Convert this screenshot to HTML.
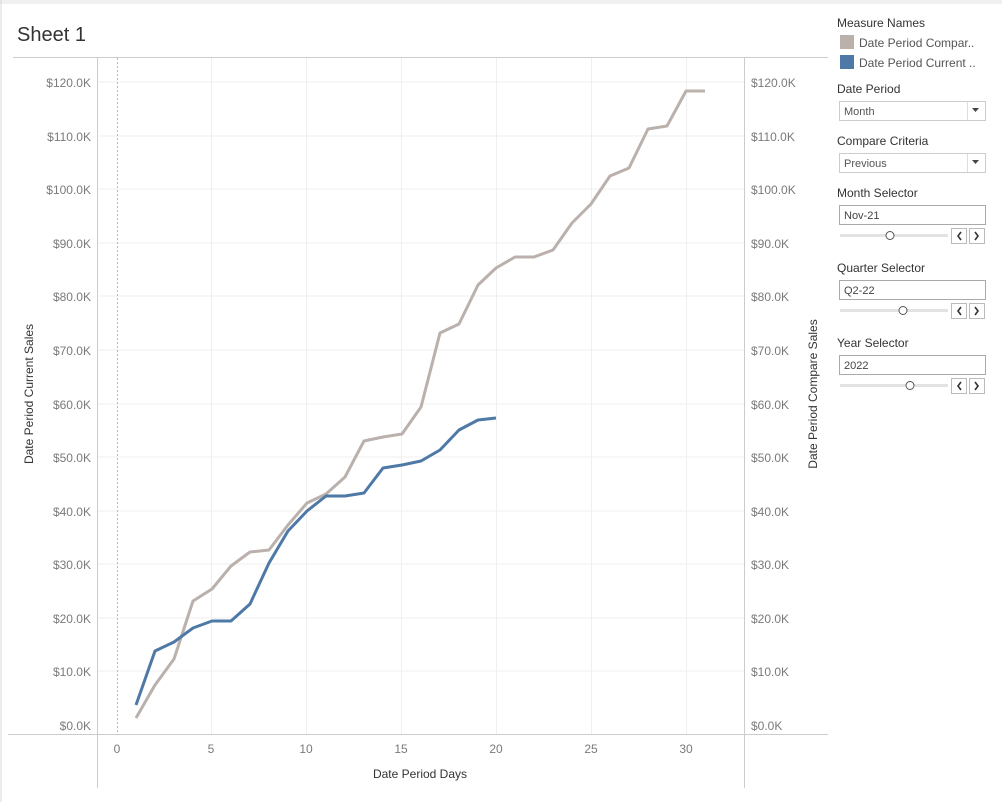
<!DOCTYPE html>
<html><head><meta charset="utf-8"><style>
body{margin:0;width:1002px;height:802px;background:#fff;font-family:"Liberation Sans",sans-serif;overflow:hidden}
</style></head><body>
<svg width="1002" height="802" style="position:absolute;left:0;top:0" font-family="Liberation Sans, sans-serif">
<rect x="0" y="0" width="1002" height="4" fill="#f0f0f0"/>
<line x1="1" y1="0" x2="1" y2="802" stroke="#d8d8d8"/>
<text x="17" y="41" font-size="20" fill="#333">Sheet 1</text>
<line x1="13" y1="57.5" x2="828" y2="57.5" stroke="#ccc"/>
<line x1="97.5" y1="57" x2="97.5" y2="788" stroke="#ccc"/>
<line x1="744.5" y1="57" x2="744.5" y2="788" stroke="#ccc"/>
<line x1="8" y1="734.5" x2="828" y2="734.5" stroke="#ccc"/>
<g stroke="#efefef">
<line x1="98" x2="744" y1="82" y2="82"/><line x1="98" x2="744" y1="136" y2="136"/><line x1="98" x2="744" y1="189" y2="189"/><line x1="98" x2="744" y1="243" y2="243"/><line x1="98" x2="744" y1="296" y2="296"/><line x1="98" x2="744" y1="350" y2="350"/><line x1="98" x2="744" y1="404" y2="404"/><line x1="98" x2="744" y1="457" y2="457"/><line x1="98" x2="744" y1="511" y2="511"/><line x1="98" x2="744" y1="564" y2="564"/><line x1="98" x2="744" y1="618" y2="618"/><line x1="98" x2="744" y1="671" y2="671"/>
<line x1="211.5" x2="211.5" y1="58" y2="734"/><line x1="306.5" x2="306.5" y1="58" y2="734"/><line x1="401.5" x2="401.5" y1="58" y2="734"/><line x1="496.5" x2="496.5" y1="58" y2="734"/><line x1="591.5" x2="591.5" y1="58" y2="734"/><line x1="686.5" x2="686.5" y1="58" y2="734"/>
</g>
<line x1="117.5" y1="58" x2="117.5" y2="734" stroke="#bbb" stroke-dasharray="2,2"/>
<g font-size="12" fill="#7a7a7a" text-anchor="end">
<text x="91" y="87">$120.0K</text><text x="91" y="141">$110.0K</text><text x="91" y="194">$100.0K</text><text x="91" y="248">$90.0K</text><text x="91" y="301">$80.0K</text><text x="91" y="355">$70.0K</text><text x="91" y="409">$60.0K</text><text x="91" y="462">$50.0K</text><text x="91" y="516">$40.0K</text><text x="91" y="569">$30.0K</text><text x="91" y="623">$20.0K</text><text x="91" y="676">$10.0K</text><text x="91" y="730">$0.0K</text>
</g>
<g font-size="12" fill="#7a7a7a" text-anchor="start">
<text x="751" y="87">$120.0K</text><text x="751" y="141">$110.0K</text><text x="751" y="194">$100.0K</text><text x="751" y="248">$90.0K</text><text x="751" y="301">$80.0K</text><text x="751" y="355">$70.0K</text><text x="751" y="409">$60.0K</text><text x="751" y="462">$50.0K</text><text x="751" y="516">$40.0K</text><text x="751" y="569">$30.0K</text><text x="751" y="623">$20.0K</text><text x="751" y="676">$10.0K</text><text x="751" y="730">$0.0K</text>
</g>
<g font-size="12" fill="#7a7a7a" text-anchor="middle">
<text x="117" y="753">0</text><text x="211" y="753">5</text><text x="306" y="753">10</text><text x="401" y="753">15</text><text x="496" y="753">20</text><text x="591" y="753">25</text><text x="686" y="753">30</text>
</g>
<text x="420" y="778" font-size="12" fill="#333" text-anchor="middle">Date Period Days</text>
<text transform="translate(33,394) rotate(-90)" font-size="12" fill="#333" text-anchor="middle">Date Period Current Sales</text>
<text transform="translate(817,394) rotate(-90)" font-size="12" fill="#333" text-anchor="middle">Date Period Compare Sales</text>
<polyline fill="none" stroke="#bab0ac" stroke-width="3" stroke-linejoin="round" points="136,718 155,685 174,659 193,601 212,589 231,566 250,552 269,550 288,525 307,503 326,494 345,477 364,441 383,437 402,434 421,407 440,333 459,324 478,285 496,268 515,257 534,257 553,250 572,223 591,204 610,176 629,168 648,129 667,126 686,91 705,91"/>
<polyline fill="none" stroke="#4e79a7" stroke-width="3" stroke-linejoin="round" points="136,705 155,651 174,642 193,628 212,621 231,621 250,604 269,563 288,531 307,511 326,496 345,496 364,493 383,468 402,465 421,461 440,450 459,430 478,420 496,418"/>
<g font-size="12" fill="#333">
<text x="837" y="27">Measure Names</text>
<rect x="840" y="35" width="14" height="14" fill="#bab0ac"/>
<text x="859" y="47" fill="#555">Date Period Compar..</text>
<rect x="840" y="55" width="14" height="14" fill="#4e79a7"/>
<text x="859" y="67" fill="#555">Date Period Current ..</text>
<text x="837" y="93">Date Period</text>
<rect x="839.5" y="101.5" width="146" height="19" fill="#fff" stroke="#ccc"/>
<line x1="967.5" y1="102" x2="967.5" y2="120" stroke="#ddd"/>
<text x="844" y="115" font-size="11" fill="#555">Month</text>
<path d="M972 108h7l-3.5 4z" fill="#444"/>
<text x="837" y="145">Compare Criteria</text>
<rect x="839.5" y="153.5" width="146" height="19" fill="#fff" stroke="#ccc"/>
<line x1="967.5" y1="154" x2="967.5" y2="172" stroke="#ddd"/>
<text x="844" y="167" font-size="11" fill="#555">Previous</text>
<path d="M972 160h7l-3.5 4z" fill="#444"/>
<text x="837" y="197">Month Selector</text>
<rect x="839.5" y="205.5" width="146" height="19" fill="#fff" stroke="#aaa"/>
<text x="844" y="219" font-size="11" fill="#444">Nov-21</text>
<rect x="840" y="234" width="108" height="3" fill="#e3e3e3"/>
<circle cx="890" cy="235.5" r="4" fill="#fff" stroke="#555"/>
<text x="837" y="272">Quarter Selector</text>
<rect x="839.5" y="280.5" width="146" height="19" fill="#fff" stroke="#aaa"/>
<text x="844" y="294" font-size="11" fill="#444">Q2-22</text>
<rect x="840" y="309" width="108" height="3" fill="#e3e3e3"/>
<circle cx="903" cy="310.5" r="4" fill="#fff" stroke="#555"/>
<text x="837" y="347">Year Selector</text>
<rect x="839.5" y="355.5" width="146" height="19" fill="#fff" stroke="#aaa"/>
<text x="844" y="369" font-size="11" fill="#444">2022</text>
<rect x="840" y="384" width="108" height="3" fill="#e3e3e3"/>
<circle cx="910" cy="385.5" r="4" fill="#fff" stroke="#555"/>
</g>
<g fill="#fff" stroke="#bbb">
<rect x="951.5" y="228.5" width="15" height="15"/><rect x="969.5" y="228.5" width="15" height="15"/>
<rect x="951.5" y="303.5" width="15" height="15"/><rect x="969.5" y="303.5" width="15" height="15"/>
<rect x="951.5" y="378.5" width="15" height="15"/><rect x="969.5" y="378.5" width="15" height="15"/>
</g>
<g fill="none" stroke="#333" stroke-width="1.6">
<path d="M961 232l-3 4 3 4"/><path d="M975 232l3 4-3 4"/>
<path d="M961 307l-3 4 3 4"/><path d="M975 307l3 4-3 4"/>
<path d="M961 382l-3 4 3 4"/><path d="M975 382l3 4-3 4"/>
</g>
</svg>
</body></html>
